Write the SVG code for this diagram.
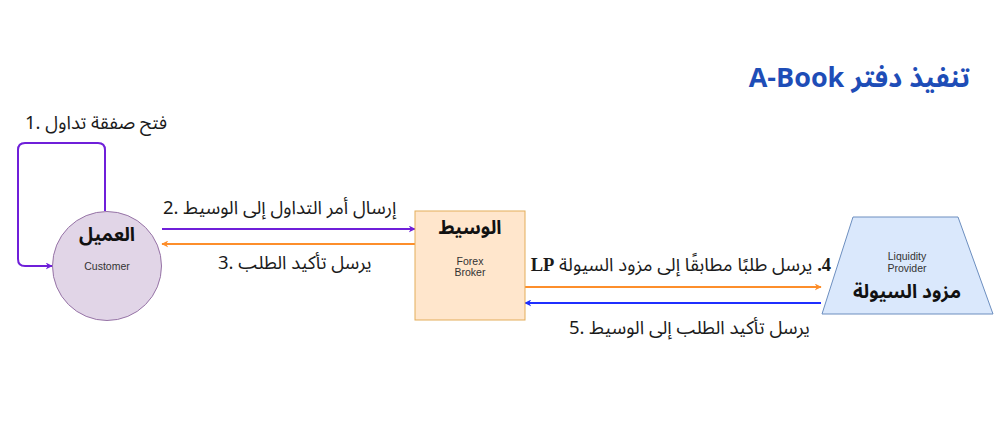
<svg xmlns="http://www.w3.org/2000/svg" width="1004" height="435" viewBox="0 0 1004 435">
<defs>
<style>
.ar{font-family:"Noto Sans Arabic","Noto Sans","DejaVu Sans",sans-serif;font-size:18.5px;fill:#1a1a1a}
.nb{font-family:"Noto Sans Arabic","DejaVu Sans",sans-serif;font-size:19px;font-weight:bold;fill:#111}
.sm{font-family:"Liberation Sans",Arial,sans-serif;font-size:10.5px;fill:#333}
.ser{font-family:"Liberation Serif","Times New Roman",serif;font-weight:bold}
</style>
<marker id="mp" viewBox="0 0 10 10" refX="9" refY="5" markerWidth="7" markerHeight="7" markerUnits="userSpaceOnUse" orient="auto"><path d="M0,0 L10,5 L0,10 L3,5 Z" fill="#6f1fd9"/></marker>
<marker id="mo" viewBox="0 0 10 10" refX="9" refY="5" markerWidth="7" markerHeight="7" markerUnits="userSpaceOnUse" orient="auto"><path d="M0,0 L10,5 L0,10 L3,5 Z" fill="#fd8e2b"/></marker>
<marker id="mb" viewBox="0 0 10 10" refX="9" refY="5" markerWidth="7" markerHeight="7" markerUnits="userSpaceOnUse" orient="auto"><path d="M0,0 L10,5 L0,10 L3,5 Z" fill="#1f2fff"/></marker>
</defs>
<rect width="1004" height="435" fill="#fff"/>
<g id="title"><text x="970" y="87" text-anchor="end" font-family="'Noto Sans Arabic','DejaVu Sans',sans-serif" font-size="27" font-weight="bold" fill="#1e4db7">A-Book تنفيذ دفتر</text></g>
<g id="connectors" fill="none" stroke-width="2">
<path d="M105,211 V150 Q105,143 98,143 H25 Q18,143 18,150 V259 Q18,266 25,266 H52" stroke="#6f1fd9" marker-end="url(#mp)"/>
<line x1="162" y1="229" x2="415" y2="229" stroke="#6f1fd9" marker-end="url(#mp)"/>
<line x1="415" y1="244" x2="162" y2="244" stroke="#fd8e2b" marker-end="url(#mo)"/>
<line x1="525" y1="287" x2="821" y2="287" stroke="#fd8e2b" marker-end="url(#mo)"/>
<line x1="821" y1="303" x2="525" y2="303" stroke="#1f2fff" marker-end="url(#mb)"/>
</g>
<g id="labels">
<text class="ar" x="25" y="129">1. فتح صفقة تداول</text>
<text class="ar" x="163" y="214">2. إرسال أمر التداول إلى الوسيط</text>
<text class="ar" x="218" y="269">3. يرسل تأكيد الطلب</text>
<text class="ar" x="831" y="271" direction="rtl" text-anchor="start"><tspan class="ser">4.</tspan> يرسل طلبًا مطابقًا إلى مزود السيولة <tspan class="ser">LP</tspan></text>
<text class="ar" x="569" y="334">5. يرسل تأكيد الطلب إلى الوسيط</text>
</g>
<g id="customer">
<circle cx="107" cy="266" r="54.5" fill="#e1d5e7" stroke="#9673a6" stroke-width="1"/>
<text class="nb" x="107" y="241" text-anchor="middle">العميل</text>
<text class="sm" x="107" y="270" text-anchor="middle">Customer</text>
</g>
<g id="broker">
<rect x="415" y="211" width="110" height="109" fill="#ffe6cc" stroke="#e3ad5a" stroke-width="1"/>
<text class="nb" x="470" y="234" text-anchor="middle">الوسيط</text>
<text class="sm" x="470" y="265" text-anchor="middle">Forex</text>
<text class="sm" x="470" y="276" text-anchor="middle">Broker</text>
</g>
<g id="lp">
<polygon points="853,217 958,217 993,314 822,314" fill="#dae8fc" stroke="#6c8ebf" stroke-width="1"/>
<text class="sm" x="907" y="260" text-anchor="middle" font-size="10">Liquidity</text>
<text class="sm" x="907" y="272" text-anchor="middle" font-size="10">Provider</text>
<text class="nb" x="907" y="298" text-anchor="middle" font-size="18">مزود السيولة</text>
</g>
</svg>
